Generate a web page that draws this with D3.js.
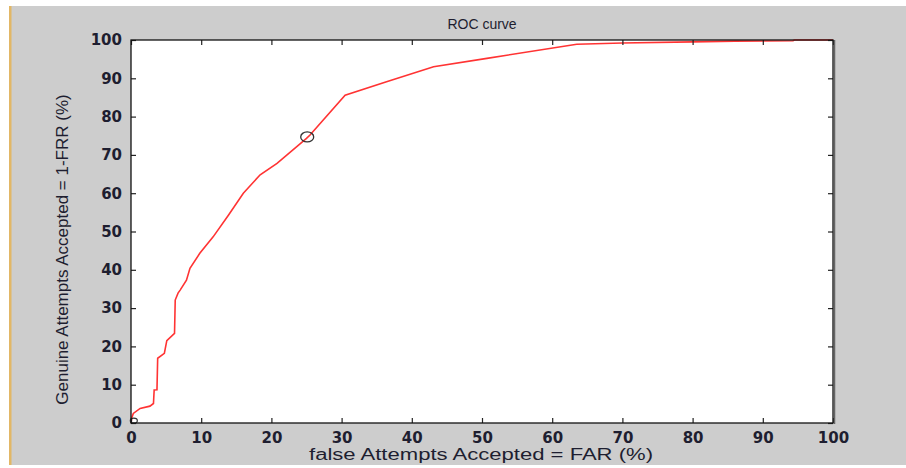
<!DOCTYPE html>
<html>
<head>
<meta charset="utf-8">
<script src="https://cdn.jsdelivr.net/npm/d3@7"></script>
<style>
  body { margin: 0; background: #fff; }
  #chart { width: 906px; height: 468px; }
  text { font-family: "Liberation Sans", Arial, sans-serif; }
</style>
</head>
<body>
<div id="chart"></div>
<script>
// FAR (%) and 1-FRR (%)
var far = [0, 0.1, 0.33, 1.3, 2.7, 3.2, 3.3, 3.7, 3.8, 4.75, 5.1, 6.2, 6.3, 6.7, 7.0, 7.9, 8.4,
           9.8, 11.7, 13.9, 16.0, 18.4, 20.8, 25.0, 25.5, 30.5, 36.4, 43.1, 50.7, 63.5,
           70, 80, 86, 94.3, 94.5, 100];
var gar = [0, 1.3, 2.5, 3.8, 4.4, 5.1, 8.6, 8.7, 16.9, 18.2, 21.5, 23.4, 32.1, 33.9, 34.7, 37.3, 40.4,
           44.3, 48.6, 54.3, 60.0, 64.8, 67.8, 74.3, 75.2, 85.6, 89.1, 93.0, 95.2, 98.9,
           99.2, 99.5, 99.7, 99.8, 100, 100];
var marker = [25.1, 74.7];   // operating point
var origin = [0.4, 0.6];
var xTicks = [0, 10, 20, 30, 40, 50, 60, 70, 80, 90, 100],
    yTicks = [0, 10, 20, 30, 40, 50, 60, 70, 80, 90, 100];

var width = 906, height = 468,
    pLeft = 131, pRight = 833, pTop = 40, pBottom = 423; // plot box

var svg = d3.select("#chart").append("svg")
    .attr("width", width)
    .attr("height", height);

// window background
svg.append("rect").attr("width", width).attr("height", height).attr("fill", "#fff");
svg.append("rect")
    .attr("x", 9).attr("y", 6)
    .attr("width", width - 9).attr("height", height - 9)
    .attr("fill", "#cdcdcd");
svg.append("rect")
    .attr("x", 9).attr("y", 6)
    .attr("width", 2.5).attr("height", height - 9)
    .attr("fill", "#e2b766");

var x = d3.scaleLinear().domain([0, 100]).range([pLeft, pRight]);
var y = d3.scaleLinear().domain([0, 100]).range([pBottom, pTop]);

svg.append("rect")
    .attr("x", pLeft).attr("y", pTop)
    .attr("width", pRight - pLeft).attr("height", pBottom - pTop)
    .attr("fill", "#fff");

var line = d3.line()
    .x(function(d, i) { return x(far[i]); })
    .y(function(d, i) { return y(gar[i]); });

svg.append("path")
    .datum(far)
    .attr("d", line)
    .attr("fill", "none")
    .attr("stroke", "#ff3333")
    .attr("stroke-width", 1.6);

svg.append("ellipse")
    .attr("cx", x(marker[0])).attr("cy", y(marker[1]))
    .attr("rx", 6.5).attr("ry", 5)
    .attr("fill", "none")
    .attr("stroke", "#333")
    .attr("stroke-width", 1.3);

svg.append("ellipse")
    .attr("cx", x(origin[0])).attr("cy", y(origin[1]))
    .attr("rx", 3.5).attr("ry", 2.5)
    .attr("fill", "none")
    .attr("stroke", "#333")
    .attr("stroke-width", 1.2);

// axes, ticks pointing inward on all four sides
var tickColor = "#222", labelColor = "#1e1e30";

var xAxis = svg.append("g")
    .attr("transform", "translate(0," + pBottom + ")")
    .call(d3.axisBottom(x).tickValues(xTicks).tickSizeInner(-5).tickSizeOuter(0).tickPadding(9));
var xTop = svg.append("g")
    .attr("transform", "translate(0," + pTop + ")")
    .call(d3.axisTop(x).tickValues(xTicks).tickSizeInner(-5).tickSizeOuter(0).tickFormat(""));
var yAxis = svg.append("g")
    .attr("transform", "translate(" + pLeft + ",0)")
    .call(d3.axisLeft(y).tickValues(yTicks).tickSizeInner(-5).tickSizeOuter(0).tickPadding(9));
var yRight = svg.append("g")
    .attr("transform", "translate(" + pRight + ",0)")
    .call(d3.axisRight(y).tickValues(yTicks).tickSizeInner(-5).tickSizeOuter(0).tickFormat(""));

[xAxis, xTop, yAxis, yRight].forEach(function(a) {
    a.select(".domain").remove();
    a.selectAll(".tick line").attr("stroke", tickColor).attr("stroke-width", 1.2);
    a.selectAll(".tick text")
        .attr("fill", labelColor)
        .style("font-family", "'DejaVu Sans', sans-serif")
        .style("font-size", "15px")
        .style("font-weight", "bold");
});

svg.append("rect")
    .attr("x", pLeft).attr("y", pTop)
    .attr("width", pRight - pLeft).attr("height", pBottom - pTop)
    .attr("fill", "none")
    .attr("stroke", "#111")
    .attr("stroke-width", 1.3);
svg.append("line")
    .attr("x1", pRight + 1.5).attr("x2", pRight + 1.5)
    .attr("y1", pTop).attr("y2", pBottom + 1)
    .attr("stroke", "#666").attr("stroke-width", 1.5);

// title and axis labels
svg.append("text")
    .attr("x", (pLeft + pRight) / 2).attr("y", 29)
    .attr("text-anchor", "middle")
    .attr("fill", labelColor)
    .style("font-size", "14px")
    .text("ROC curve");

svg.append("text")
    .attr("x", 309).attr("y", 460)
    .attr("textLength", 344)
    .attr("lengthAdjust", "spacingAndGlyphs")
    .attr("fill", labelColor)
    .style("font-size", "16px")
    .text("false Attempts Accepted = FAR (%)");

svg.append("text")
    .attr("transform", "translate(68," + ((pTop + pBottom) / 2 + 18) + ") rotate(-90)")
    .attr("text-anchor", "middle")
    .attr("fill", labelColor)
    .style("font-size", "17px")
    .text("Genuine Attempts Accepted = 1-FRR (%)");
</script>
</body>
</html>
